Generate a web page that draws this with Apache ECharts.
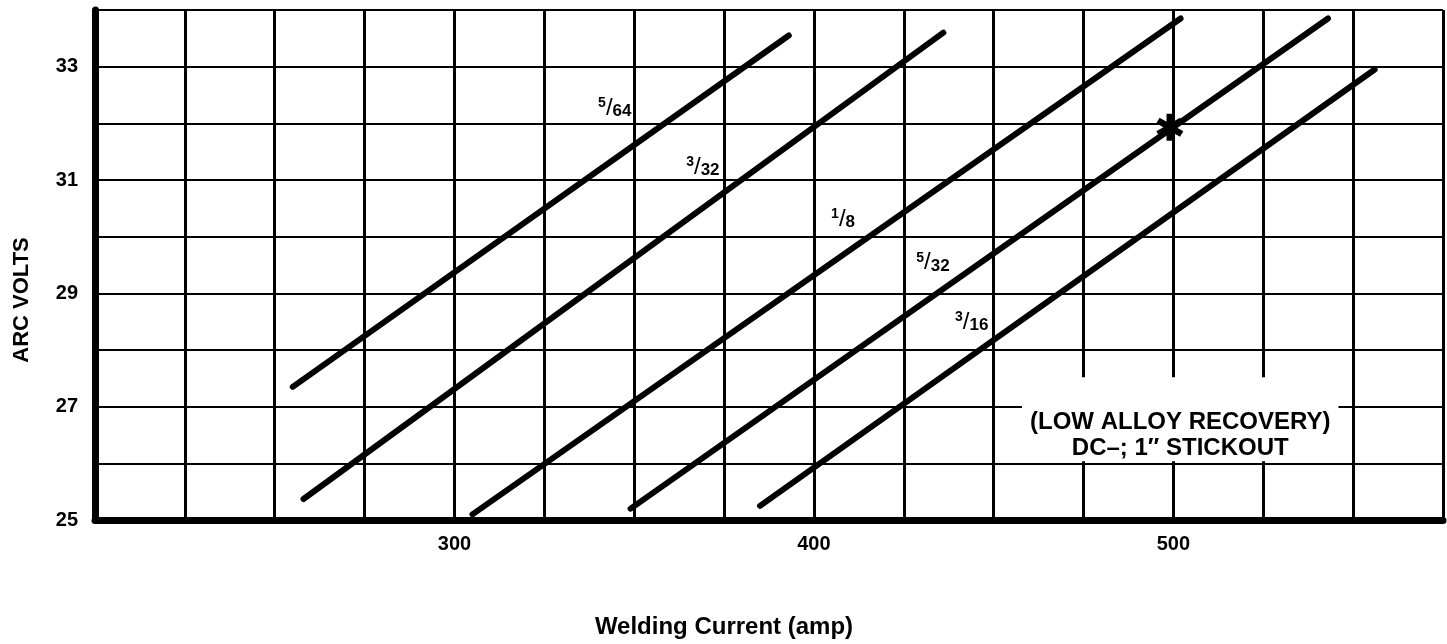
<!DOCTYPE html>
<html>
<head>
<meta charset="utf-8">
<script src="https://cdn.jsdelivr.net/npm/echarts@6/dist/echarts.min.js"></script>
<style>
  html, body { margin: 0; padding: 0; background: #fff; }
  #chart { width: 1447px; height: 644px; }
</style>
</head>
<body>
<div id="chart"></div>
<script>
// Electrode diameters (inches) and their arc-volt vs. current lines
const electrodeSizes = ['5/64', '3/32', '1/8', '5/32', '3/16'];
const lineStart = [[255, 27.35], [258, 25.37], [305, 25.1], [349, 25.2], [385, 25.25]];
const lineEnd   = [[393, 33.55], [436, 33.6], [502, 33.85], [543, 33.85], [556, 32.95]];
// where each size is written next to its line
const sizeLabelAt = [[344.6, 32.27], [369.1, 31.23], [408.1, 30.31], [433.1, 29.54], [443.9, 28.49]];
// marked operating point
const operatingPoint = [499, 31.93];
// note block (centre of its white panel)
const notePoint = [501.9, 26.78];
const noteLines = ['(LOW ALLOY RECOVERY)', 'DC\u2013; 1\u2033 STICKOUT'];
// labelled ticks
const xTickLabels = [300, 400, 500];
const yTickLabels = [25, 27, 29, 31, 33];

const SANS = '"Liberation Sans", Arial, sans-serif';

// six-armed asterisk made of three crossing bars
const starPath = 'path://M-2.4,10L-2.4,-10L2.4,-10L2.4,10Z' +
  'M7.46,7.08L-9.86,-2.92L-7.46,-7.08L9.86,2.92Z' +
  'M-9.86,2.92L7.46,-7.08L9.86,-2.92L-7.46,7.08Z';

function fractionRich(txt) {
  const [n, d] = txt.split('/');
  return '{n|' + n + '}{s|/}{d|' + d + '}';
}

const lineSeries = electrodeSizes.map((name, i) => ({
  name: name,
  type: 'line',
  data: [lineStart[i], lineEnd[i]],
  symbol: 'none',
  silent: true,
  z: 3,
  lineStyle: { color: '#000', width: 6, cap: 'round' }
}));

const chart = echarts.init(document.getElementById('chart'), null, { renderer: 'canvas' });

chart.setOption({
  animation: false,
  backgroundColor: '#fff',
  grid: { left: 95, right: 4, top: 10, bottom: 124, containLabel: false },
  xAxis: {
    type: 'value',
    min: 200, max: 575, interval: 25,
    axisLine: { show: true, onZero: false, lineStyle: { color: '#000', width: 7 } },
    axisTick: { show: false },
    axisLabel: {
      margin: 14,
      color: '#000',
      fontFamily: SANS,
      fontWeight: 'bold',
      fontSize: 20,
      formatter: v => xTickLabels.includes(v) ? String(v) : ''
    },
    splitLine: { show: true, lineStyle: { color: '#000', width: 3 } }
  },
  yAxis: {
    type: 'value',
    min: 25, max: 34, interval: 1,
    axisLine: { show: true, onZero: false, lineStyle: { color: '#000', width: 7 } },
    axisTick: { show: false },
    axisLabel: {
      margin: 17,
      color: '#000',
      fontFamily: SANS,
      fontWeight: 'bold',
      fontSize: 20,
      padding: [0, 0, 8, 0],
      formatter: v => yTickLabels.includes(v) ? String(v) : ''
    },
    splitLine: { show: true, lineStyle: { color: '#000', width: 2 } }
  },
  graphic: [
    {
      type: 'text', x: 724, y: 627,
      style: {
        text: 'Welding Current (amp)', fill: '#000',
        font: 'bold 24px ' + SANS, align: 'center', verticalAlign: 'middle'
      }
    },
    {
      type: 'text', x: 22, y: 300, rotation: Math.PI / 2,
      style: {
        text: 'ARC VOLTS', fill: '#000',
        font: 'bold 22px ' + SANS, align: 'center', verticalAlign: 'middle'
      }
    }
  ],
  series: lineSeries.concat([
    {
      name: 'sizes',
      type: 'scatter',
      silent: true,
      symbolSize: 0,
      z: 4,
      itemStyle: { opacity: 1 },
      data: electrodeSizes.map((s, i) => ({ name: s, value: sizeLabelAt[i] })),
      label: {
        show: true,
        position: 'inside',
        color: '#000',
        formatter: p => fractionRich(p.name),
        rich: {
          n: { fontFamily: SANS, fontSize: 14, fontWeight: 'bold', verticalAlign: 'top', lineHeight: 24, color: '#000' },
          s: { fontFamily: SANS, fontSize: 24, verticalAlign: 'middle', lineHeight: 24, color: '#000' },
          d: { fontFamily: SANS, fontSize: 17, fontWeight: 'bold', verticalAlign: 'bottom', lineHeight: 24, color: '#000' }
        }
      }
    },
    {
      name: 'operating point',
      type: 'scatter',
      silent: true,
      z: 5,
      symbol: starPath,
      symbolSize: 27,
      itemStyle: { color: '#000', opacity: 1 },
      data: [operatingPoint]
    },
    {
      name: 'note',
      type: 'scatter',
      silent: true,
      symbolSize: 0,
      z: 4,
      itemStyle: { opacity: 1 },
      data: [{ value: notePoint }],
      label: {
        show: true,
        position: 'inside',
        // blank top row leaves room above the two text lines
        formatter: () => '{gap| }\n' + noteLines.map(t => '{t|' + t + '}').join('\n'),
        align: 'center',
        backgroundColor: '#fff',
        padding: [0, 8, 0, 8],
        rich: {
          gap: { fontSize: 10, lineHeight: 32 },
          t: { color: '#000', fontFamily: SANS, fontWeight: 'bold', fontSize: 24, lineHeight: 26 }
        }
      }
    }
  ])
});
</script>
</body>
</html>
